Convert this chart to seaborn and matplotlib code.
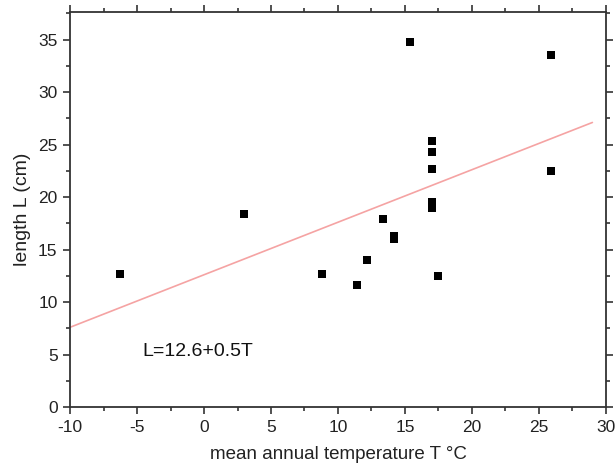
import numpy as np
import pandas as pd
import seaborn as sns
import matplotlib.pyplot as plt
from matplotlib.ticker import MultipleLocator

temperature = [-6.3, 3.0, 8.8, 11.4, 12.2, 13.4, 14.2, 14.2, 15.4,
               17.0, 17.0, 17.0, 17.0, 17.0, 17.5, 25.9, 25.9]
length = [12.7, 18.4, 12.7, 11.6, 14.0, 17.9, 16.3, 16.0, 34.8,
          25.3, 24.3, 22.7, 19.5, 19.0, 12.5, 33.5, 22.5]
fit_intercept = 12.6
fit_slope = 0.5
fit_range = [-10, 29]

sns.set_style('ticks')
plt.rcParams['font.family'] = ['Liberation Sans', 'DejaVu Sans']
plt.rcParams['axes.unicode_minus'] = False

df = pd.DataFrame({'T': temperature, 'L': length})
fit_x = np.array(fit_range)
fit = pd.DataFrame({'T': fit_x, 'L': fit_intercept + fit_slope * fit_x})

fig = plt.figure(figsize=(6.15, 4.69), dpi=100)
ax = fig.add_axes([0.114, 0.132, 0.871, 0.842])

sns.lineplot(data=fit, x='T', y='L', color='#f5a3a3', linewidth=1.2, ax=ax)
sns.scatterplot(data=df, x='T', y='L', marker='s', s=34, color='black',
                edgecolor='black', linewidth=0, ax=ax, zorder=3)

ax.text(-4.6, 5.3, f'L={fit_intercept}+{fit_slope}T', fontsize=14, va='center',
        color='#111111')

ax.set_xlim(-10, 30)
ax.set_ylim(0, 37.6)
ax.xaxis.set_major_locator(MultipleLocator(5))
ax.xaxis.set_minor_locator(MultipleLocator(2.5))
ax.yaxis.set_major_locator(MultipleLocator(5))
ax.yaxis.set_minor_locator(MultipleLocator(2.5))
ax.tick_params(which='both', direction='out', top=True, right=True,
               labelsize=12.5, width=1.2, color='#333333', labelcolor='#222222')
ax.tick_params(which='major', length=5, pad=4)
ax.tick_params(which='minor', length=3)
for side in ['top', 'right']:
    ax.spines[side].set_visible(True)
for s in ax.spines.values():
    s.set_linewidth(1.3)
    s.set_color('#333333')

ax.set_xlabel('mean annual temperature T °C', fontsize=13.5, color='#222222', labelpad=8)
ax.set_ylabel('length L (cm)', fontsize=14, color='#222222', labelpad=5)

fig.savefig('out.png', dpi=100)
